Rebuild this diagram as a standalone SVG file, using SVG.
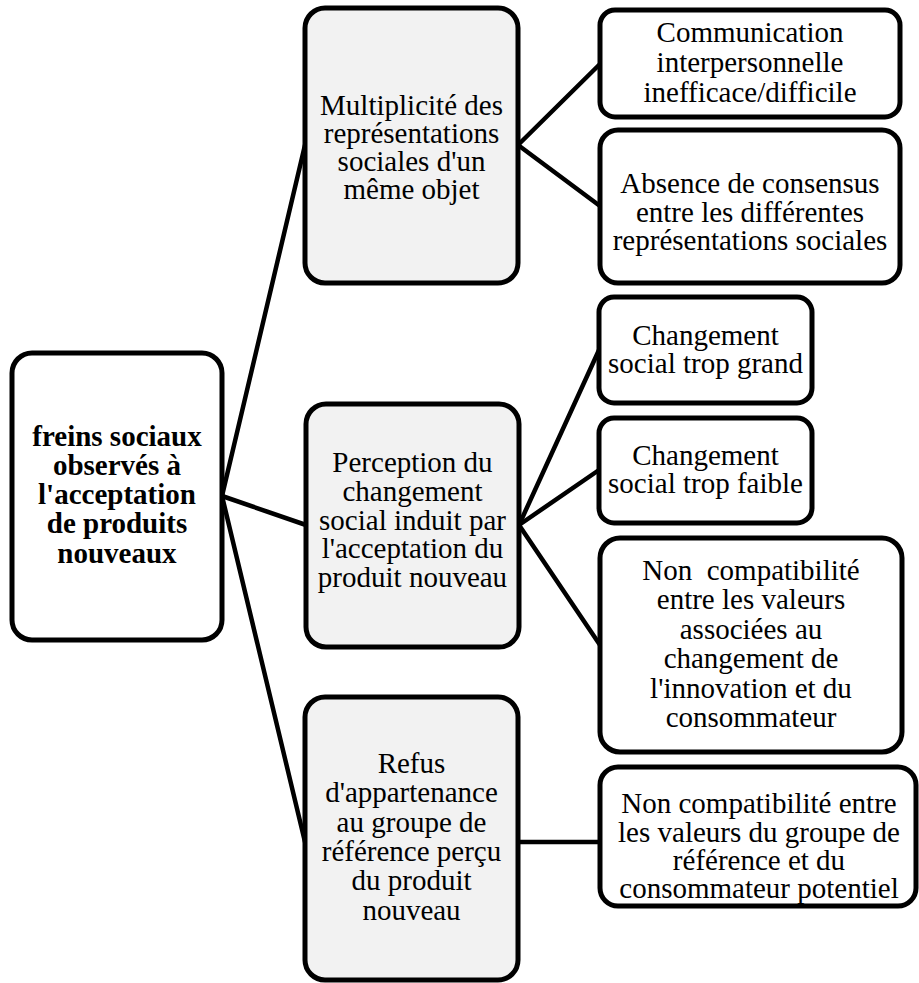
<svg xmlns="http://www.w3.org/2000/svg" width="919" height="983" viewBox="0 0 919 983">
<style>
.box{stroke:#000;stroke-width:5;fill:#fff}
.grey{fill:#f2f2f2}
.t{font-family:"Liberation Serif","Times New Roman",serif;font-size:29px;fill:#000;text-anchor:middle}
.b{font-weight:bold}
.ln{stroke:#000;stroke-width:4.5;fill:none;stroke-linecap:round}
</style>
<rect width="919" height="983" fill="#fff"/>
<g id="connectors">
<line class="ln" x1="222" y1="496" x2="305" y2="145"/>
<line class="ln" x1="222" y1="496" x2="306" y2="525"/>
<line class="ln" x1="222" y1="496" x2="305" y2="842"/>
<line class="ln" x1="518" y1="145" x2="600" y2="64"/>
<line class="ln" x1="518" y1="145" x2="600" y2="206"/>
<line class="ln" x1="519" y1="525" x2="599" y2="350"/>
<line class="ln" x1="519" y1="525" x2="599" y2="470"/>
<line class="ln" x1="519" y1="525" x2="600" y2="645"/>
<line class="ln" x1="518" y1="842" x2="600" y2="842"/>
</g>
<g id="root">
<rect class="box" x="12" y="353" width="210" height="287" rx="20"/>
<text class="t b" x="117" y="446">freins sociaux</text>
<text class="t b" x="117" y="475">observés à</text>
<text class="t b" x="117" y="504">l'acceptation</text>
<text class="t b" x="117" y="533">de produits</text>
<text class="t b" x="117" y="563">nouveaux</text>
</g>
<g id="multiplicite">
<rect class="box grey" x="305" y="8" width="213" height="275" rx="20"/>
<text class="t" x="411.5" y="115">Multiplicité des</text>
<text class="t" x="411.5" y="143">représentations</text>
<text class="t" x="411.5" y="171">sociales d'un</text>
<text class="t" x="411.5" y="199">même objet</text>
</g>
<g id="perception">
<rect class="box grey" x="306" y="404" width="213" height="243" rx="20"/>
<text class="t" x="412.5" y="472">Perception du</text>
<text class="t" x="412.5" y="501">changement</text>
<text class="t" x="412.5" y="530">social induit par</text>
<text class="t" x="412.5" y="558">l'acceptation du</text>
<text class="t" x="412.5" y="587">produit nouveau</text>
</g>
<g id="refus">
<rect class="box grey" x="305" y="697" width="213" height="283" rx="20"/>
<text class="t" x="411.5" y="773">Refus</text>
<text class="t" x="411.5" y="802">d'appartenance</text>
<text class="t" x="411.5" y="832">au groupe de</text>
<text class="t" x="411.5" y="861">référence perçu</text>
<text class="t" x="411.5" y="890">du produit</text>
<text class="t" x="411.5" y="920">nouveau</text>
</g>
<g id="communication">
<rect class="box" x="600" y="10" width="300" height="107" rx="15"/>
<text class="t" x="750" y="42">Communication</text>
<text class="t" x="750" y="72">interpersonnelle</text>
<text class="t" x="750" y="102">inefficace/difficile</text>
</g>
<g id="absence">
<rect class="box" x="600" y="130" width="300" height="153" rx="18"/>
<text class="t" x="750" y="193">Absence de consensus</text>
<text class="t" x="750" y="222">entre les différentes</text>
<text class="t" x="750" y="250">représentations sociales</text>
</g>
<g id="grand">
<rect class="box" x="599" y="297" width="213" height="106" rx="15"/>
<text class="t" x="705.5" y="345">Changement</text>
<text class="t" x="705.5" y="373">social trop grand</text>
</g>
<g id="faible">
<rect class="box" x="599" y="418" width="213" height="105" rx="15"/>
<text class="t" x="705.5" y="465">Changement</text>
<text class="t" x="705.5" y="493">social trop faible</text>
</g>
<g id="noncompat1">
<rect class="box" x="600" y="538" width="302" height="214" rx="20"/>
<text class="t" x="751" y="580">Non&#160; compatibilité</text>
<text class="t" x="751" y="609">entre les valeurs</text>
<text class="t" x="751" y="639">associées au</text>
<text class="t" x="751" y="668">changement de</text>
<text class="t" x="751" y="698">l'innovation et du</text>
<text class="t" x="751" y="727">consommateur</text>
</g>
<g id="noncompat2">
<rect class="box" x="600" y="767" width="316" height="139" rx="18"/>
<text class="t" x="759" y="813">Non compatibilité entre</text>
<text class="t" x="759" y="842">les valeurs du groupe de</text>
<text class="t" x="759" y="870">référence et du</text>
<text class="t" x="759" y="898">consommateur potentiel</text>
</g>
</svg>
